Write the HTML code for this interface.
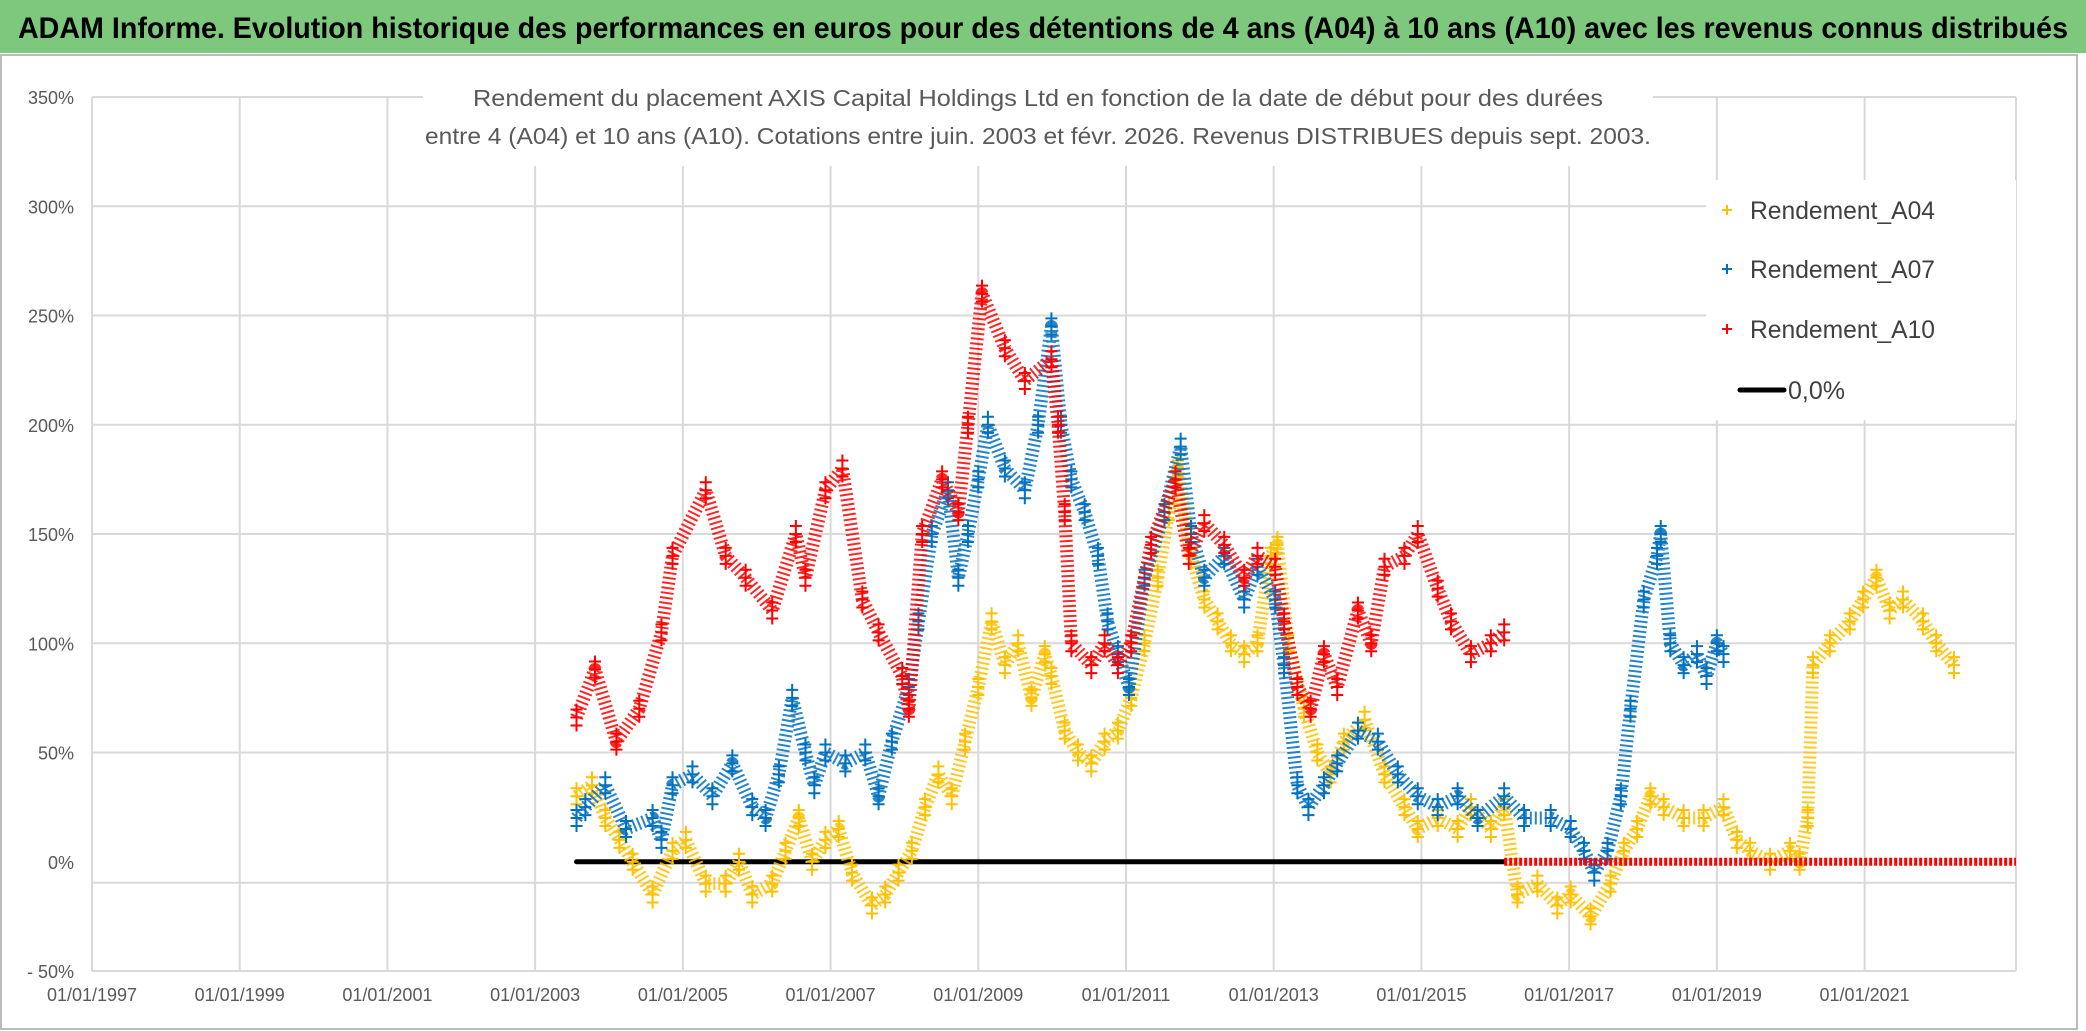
<!DOCTYPE html>
<html><head><meta charset="utf-8"><style>
html,body{margin:0;padding:0;background:#fff}
svg{display:block;font-family:"Liberation Sans",sans-serif}
</style></head><body>
<svg id="chart" width="2086" height="1031" viewBox="0 0 2086 1031">
<rect x="0" y="0" width="2086" height="1031" fill="#fff"/>
<rect x="0" y="0" width="2086" height="53" fill="#7DC87D"/>
<text x="1043" y="38" text-anchor="middle" font-size="30" font-weight="bold" fill="#000" textLength="2050" lengthAdjust="spacingAndGlyphs">ADAM Informe. Evolution historique des performances en euros pour des détentions de 4 ans (A04) à 10 ans (A10) avec les revenus connus distribués</text>
<rect x="1" y="55" width="2076" height="974" fill="none" stroke="#bbb" stroke-width="2"/>
<g id="grid"></g>
<g id="series"></g>
<rect x="423" y="74" width="1230" height="92" fill="#fff"/>
<text x="1038" y="106" text-anchor="middle" font-size="23" fill="#595959" textLength="1130" lengthAdjust="spacingAndGlyphs">Rendement du placement AXIS Capital Holdings Ltd en fonction de la date de début pour des durées</text>
<text x="1038" y="144" text-anchor="middle" font-size="23" fill="#595959" textLength="1226" lengthAdjust="spacingAndGlyphs">entre 4 (A04) et 10 ans (A10). Cotations entre juin. 2003 et févr. 2026. Revenus DISTRIBUES depuis sept. 2003.</text>
<g>
<rect x="1706" y="180" width="310" height="240" fill="#fff"/>
<g><path d="M1722 210h10M1727 205v10" stroke="#FFC000" stroke-width="2"/><text x="1750" y="219" font-size="25" fill="#404040" textLength="185" lengthAdjust="spacingAndGlyphs">Rendement_A04</text></g>
<g><path d="M1722 269h10M1727 264v10" stroke="#0070C0" stroke-width="2"/><text x="1750" y="278" font-size="25" fill="#404040" textLength="185" lengthAdjust="spacingAndGlyphs">Rendement_A07</text></g>
<g><path d="M1722 329h10M1727 324v10" stroke="#FF0000" stroke-width="2"/><text x="1750" y="338" font-size="25" fill="#404040" textLength="185" lengthAdjust="spacingAndGlyphs">Rendement_A10</text></g>
<g><path d="M1740 390h44" stroke="#000" stroke-width="5" stroke-linecap="round"/><text x="1788" y="399" font-size="25" fill="#404040">0,0%</text></g>
</g>
</svg>
<script>
const yTicks=[350,300,250,200,150,100,50,0,-50];
const yTickLabels=["350%","300%","250%","200%","150%","100%","50%","0%","- 50%"];
const xTicks=[1997,1999,2001,2003,2005,2007,2009,2011,2013,2015,2017,2019,2021];
const xTickLabels=["01/01/1997","01/01/1999","01/01/2001","01/01/2003","01/01/2005","01/01/2007","01/01/2009","01/01/2011","01/01/2013","01/01/2015","01/01/2017","01/01/2019","01/01/2021"];
const a10Dates=[2003.56,2003.81,2004.10,2004.41,2004.71,2004.86,2005.31,2005.58,2005.85,2006.21,2006.53,2006.66,2006.93,2007.16,2007.43,2007.65,2007.97,2008.06,2008.24,2008.51,2008.73,2008.86,2009.05,2009.36,2009.63,2009.99,2010.08,2010.17,2010.26,2010.53,2010.71,2010.89,2011.07,2011.34,2011.67,2011.85,2012.06,2012.33,2012.60,2012.78,2013.02,2013.14,2013.32,2013.50,2013.68,2013.86,2014.14,2014.32,2014.50,2014.77,2014.95,2015.22,2015.40,2015.67,2015.94,2016.12];
const a10Values=[66,88,55,70,105,140,170,140,130,115,150,130,170,180,120,105,85,70,150,175,160,200,260,235,220,230,200,160,100,90,100,90,100,145,175,140,155,145,130,140,135,110,80,70,95,80,115,100,135,140,150,125,110,95,100,105];
const a10ZeroDates=[2016.12,2023.05];
const a10ZeroValues=[0,0];
const a07Dates=[2003.56,2003.68,2003.95,2004.23,2004.59,2004.71,2004.86,2005.13,2005.40,2005.67,2005.94,2006.12,2006.30,2006.48,2006.66,2006.78,2006.93,2007.20,2007.47,2007.65,2007.83,2008.06,2008.19,2008.37,2008.59,2008.73,2008.86,2009.00,2009.13,2009.36,2009.63,2009.81,2009.99,2010.12,2010.26,2010.44,2010.62,2010.75,2010.89,2011.04,2011.25,2011.52,2011.74,2011.88,2012.06,2012.33,2012.60,2012.78,2013.02,2013.14,2013.32,2013.47,2013.68,2013.86,2014.14,2014.41,2014.68,2014.95,2015.22,2015.49,2015.76,2016.12,2016.39,2016.75,2017.02,2017.20,2017.34,2017.52,2017.70,2017.83,2018.01,2018.19,2018.24,2018.37,2018.55,2018.73,2018.86,2019.00,2019.09];
const a07Values=[20,25,35,15,20,10,35,40,30,45,25,20,40,75,50,35,50,45,50,30,55,80,110,150,170,130,150,175,200,180,170,200,245,200,175,160,140,110,95,80,130,160,190,150,130,140,120,135,120,90,35,25,35,45,60,55,40,30,25,30,20,30,20,20,15,5,-5,5,30,70,120,140,150,100,90,95,85,100,95];
const a04Dates=[2003.56,2003.77,2003.95,2004.14,2004.32,2004.59,2004.86,2005.04,2005.31,2005.58,2005.76,2005.94,2006.21,2006.39,2006.57,2006.75,2006.93,2007.11,2007.29,2007.56,2007.74,2007.92,2008.10,2008.28,2008.46,2008.64,2008.82,2009.00,2009.18,2009.36,2009.54,2009.72,2009.90,2009.99,2010.17,2010.35,2010.53,2010.71,2010.89,2011.07,2011.25,2011.43,2011.58,2011.70,2011.88,2012.06,2012.24,2012.42,2012.60,2012.78,2012.96,2013.05,2013.20,2013.41,2013.59,2013.77,2013.95,2014.23,2014.50,2014.77,2014.95,2015.22,2015.49,2015.67,2015.94,2016.12,2016.30,2016.57,2016.84,2017.02,2017.29,2017.56,2017.74,2017.92,2018.10,2018.28,2018.55,2018.82,2019.09,2019.27,2019.45,2019.72,2019.99,2020.12,2020.23,2020.30,2020.53,2020.80,2020.98,2021.16,2021.34,2021.52,2021.79,2021.97,2022.21];
const a04Values=[30,35,20,10,0,-15,5,10,-10,-10,0,-15,-10,5,20,0,10,15,-5,-20,-15,-5,5,25,40,30,55,80,110,90,100,75,95,85,60,50,45,55,60,75,100,130,160,180,140,120,110,100,95,100,140,145,100,70,50,40,55,65,40,25,15,20,15,25,15,25,-15,-10,-20,-15,-25,-10,5,15,30,25,20,20,25,10,5,0,5,0,20,90,100,110,120,130,115,120,110,100,90];
const zeroDates=[2003.56,2016.12];
const zeroValues=[0,0];

const NS="http://www.w3.org/2000/svg";
const L=92,R=2016,T=97,B=971,X0=1997,X1=2023.05,Y0=-50,Y1=350;
function xs(v){return L+(v-X0)/(X1-X0)*(R-L);}
function ys(v){return B-(v-Y0)/(Y1-Y0)*(B-T);}
function mk(tag,attrs,parent){const e=document.createElementNS(NS,tag);for(const k in attrs)e.setAttribute(k,attrs[k]);parent.appendChild(e);return e;}
const grid=document.getElementById('grid');
const ser=document.getElementById('series');
yTicks.forEach((v,i)=>{
  const gy=v===0?ys(0)+21:ys(v);
  const ln=mk('line',{x1:L,x2:R,y1:gy,y2:gy,stroke:'#d9d9d9','stroke-width':2},grid);
  
  
  const t=mk('text',{x:74,y:ys(v)+7,'text-anchor':'end','font-size':18,fill:'#595959'},grid);
  t.textContent=yTickLabels[i];
  
  
});
xTicks.concat([X1]).forEach(v=>{
  const ln=mk('line',{x1:xs(v),x2:xs(v),y1:T,y2:B,stroke:'#d9d9d9','stroke-width':2},grid);
  
  
});
xTicks.forEach((v,i)=>{
  const t=mk('text',{x:xs(v),y:1001,'text-anchor':'middle','font-size':18,fill:'#595959'},grid);
  t.textContent=xTickLabels[i];
  
  
});
function drawSeries(dates,vals,color,name){
  const g=mk('g',{},ser);
  
  
  const pts=dates.map((d,i)=>xs(d).toFixed(1)+','+ys(vals[i]).toFixed(1)).join(' ');
  mk('polyline',{points:pts,fill:'none',stroke:color,'stroke-width':13,'stroke-linejoin':'round','stroke-dasharray':'2 3','opacity':0.85},g);
  dates.forEach((d,i)=>{
    const x=xs(d),y=ys(vals[i]);
    const p=mk('path',{d:`M${x-6} ${y}h12M${x} ${y-6}v12M${x-6} ${y+8}h12M${x} ${y+2}v12M${x-6} ${y-8}h12M${x} ${y-14}v12`,stroke:color,'stroke-width':2},g);
    
    
  });
}
const z=mk('line',{x1:xs(zeroDates[0]),x2:xs(zeroDates[1]),y1:ys(zeroValues[0]),y2:ys(zeroValues[1]),stroke:'#000','stroke-width':5,'stroke-linecap':'round'},ser);


drawSeries(a04Dates,a04Values,'#FFC000','series-a04');
drawSeries(a07Dates,a07Values,'#0070C0','series-a07');
drawSeries(a10Dates,a10Values,'#FF0000','series-a10');
const rz=mk('line',{x1:xs(a10ZeroDates[0]),x2:xs(a10ZeroDates[1]),y1:ys(a10ZeroValues[0]),y2:ys(a10ZeroValues[1]),stroke:'#FF0000','stroke-width':8,'stroke-dasharray':'3 2'},ser);


</script>
</body></html>
